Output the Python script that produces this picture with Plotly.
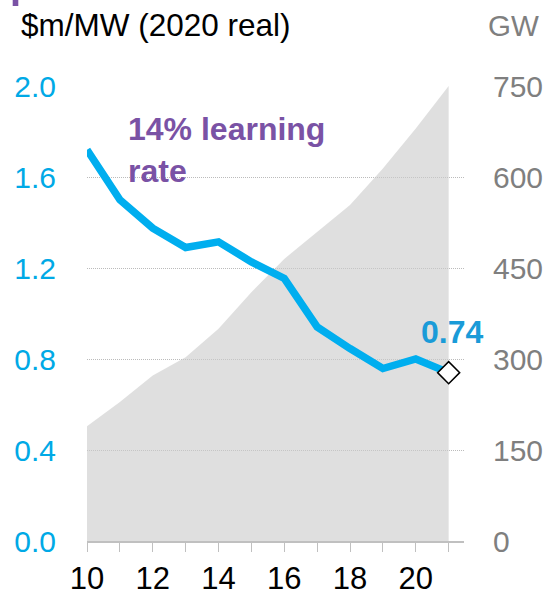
import plotly.graph_objects as go

# ---- data ----
years = [2010, 2011, 2012, 2013, 2014, 2015, 2016, 2017, 2018, 2019, 2020, 2021]
capex_m_per_mw = [1.72, 1.50, 1.375, 1.29, 1.315, 1.227, 1.154, 0.941, 0.846, 0.758, 0.80, 0.74]
capacity_gw = [189, 229, 273, 303, 350, 410, 465, 510, 554, 614, 680, 750]
x_tick_labels = ["10", "", "12", "", "14", "", "16", "", "18", "", "20", ""]
left_ticks = [0.0, 0.4, 0.8, 1.2, 1.6, 2.0]
right_ticks = [0, 150, 300, 450, 600, 750]

FONT = "Liberation Sans, Arial, sans-serif"
BLUE = "#00AEEF"
PURPLE = "#7A52A5"
GREY_TXT = "#7F7F7F"

W, H = 549, 592
L, R, T, B = 87, 85, 86, 51
pw, ph = W - L - R, H - T - B


def px_x(p):
    return (p - L) / pw


def px_y(p):
    return (H - B - p) / ph


fig = go.Figure()

# cumulative capacity area (GW, right-hand scale)
fig.add_trace(go.Scatter(
    x=years, y=capacity_gw, yaxis="y", mode="lines",
    line=dict(width=0, color="rgba(0,0,0,0)"),
    fill="tozeroy", fillcolor="rgba(204,204,204,0.62)",
    hoverinfo="skip", showlegend=False,
))

# capex line
fig.add_trace(go.Scatter(
    x=years, y=capex_m_per_mw, yaxis="y2", mode="lines",
    line=dict(color=BLUE, width=7.5), showlegend=False,
))

# last point marker
fig.add_trace(go.Scatter(
    x=[years[-1]], y=[capex_m_per_mw[-1]], yaxis="y2", mode="markers",
    marker=dict(symbol="diamond", size=17, color="white",
                line=dict(color="black", width=1.5)),
    cliponaxis=False, showlegend=False,
))

fig.update_layout(
    width=W, height=H,
    margin=dict(l=L, r=R, t=T, b=B, autoexpand=False),
    paper_bgcolor="white", plot_bgcolor="white",
    font=dict(family=FONT),
    xaxis=dict(
        range=[years[0], years[0] + 11.467],
        tickvals=years, ticktext=x_tick_labels,
        ticks="outside", ticklen=9, tickwidth=1.2, tickcolor="#C0C0C0",
        showline=True, linecolor="#C0C0C0", linewidth=1.5,
        showgrid=False, zeroline=False, automargin=False,
        tickfont=dict(size=31, color="black", family=FONT),
    ),
    yaxis=dict(
        side="right", range=[0, 750], tickvals=right_ticks,
        tickfont=dict(size=30, color=GREY_TXT, family=FONT),
        showgrid=True, gridcolor="#BBBBBB", griddash="1px,1px", gridwidth=1,
        zeroline=False, showline=False, automargin=False,
        ticks="outside", ticklen=0, ticklabelstandoff=22,
    ),
    yaxis2=dict(
        side="left", overlaying="y", range=[0, 2.0], tickvals=left_ticks,
        tickformat=".1f",
        tickfont=dict(size=30, color="#00A9E6", family=FONT),
        showgrid=False, zeroline=False, showline=False, automargin=False,
        ticks="outside", ticklen=0, ticklabelstandoff=24,
    ),
    shapes=[dict(
        type="rect", xref="paper", yref="paper",
        x0=px_x(12.7), x1=px_x(18.3), y0=px_y(6), y1=px_y(0),
        fillcolor=PURPLE, line=dict(width=0),
    )],
    annotations=[
        dict(text="$m/MW (2020 real)", xref="paper", yref="paper",
             x=px_x(19), y=px_y(25), xanchor="left", yanchor="middle",
             showarrow=False, font=dict(size=31.5, color="black", family=FONT)),
        dict(text="GW", xref="paper", yref="paper",
             x=px_x(541), y=px_y(25), xanchor="right", yanchor="middle",
             showarrow=False, font=dict(size=29.5, color=GREY_TXT, family=FONT)),
        dict(text="<b>14% learning<br>rate</b>", xref="x", yref="y2",
             x=2011.2, y=1.72, xanchor="left", yanchor="middle", align="left",
             showarrow=False, font=dict(size=32, color=PURPLE, family=FONT)),
        dict(text="<b>%.2f</b>" % capex_m_per_mw[-1], xref="x", yref="y2",
             x=years[-1], y=capex_m_per_mw[-1], xanchor="center", yanchor="middle",
             xshift=3, yshift=41,
             showarrow=False, font=dict(size=32, color="#1A9BD8", family=FONT)),
    ],
)

fig.write_html("out.html", config={"displayModeBar": False},
               post_script="document.body.style.margin='0px';")
